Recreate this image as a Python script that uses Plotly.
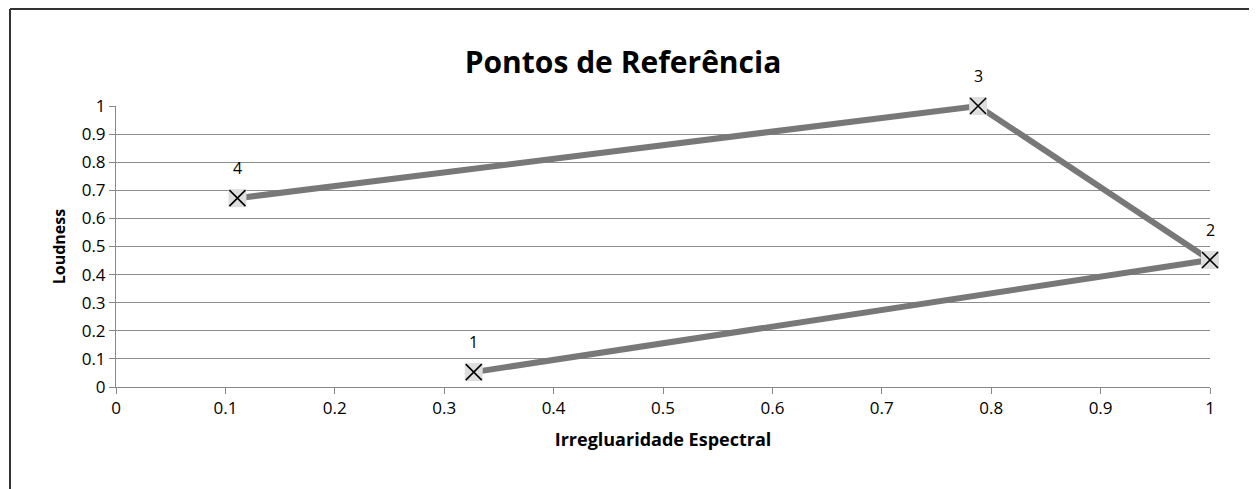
import plotly.graph_objects as go

labels = ["1", "2", "3", "4"]
irregularidade = [0.327, 1.0, 0.788, 0.111]
loudness = [0.053, 0.452, 1.0, 0.672]
x_ticks = [0, 0.1, 0.2, 0.3, 0.4, 0.5, 0.6, 0.7, 0.8, 0.9, 1]
x_tick_text = ["0", "0.1", "0.2", "0.3", "0.4", "0.5", "0.6", "0.7", "0.8", "0.9", "1"]
y_ticks = [0, 0.1, 0.2, 0.3, 0.4, 0.5, 0.6, 0.7, 0.8, 0.9, 1]
y_tick_text = ["0", "0.1", "0.2", "0.3", "0.4", "0.5", "0.6", "0.7", "0.8", "0.9", "1"]

FONT = "Open Sans"

# page has an 8px body offset; figure coordinates are page coordinates - 8
OFF = 8
W, H = 1257, 489
PAD = 10                      # extra room so the line is not clipped at the edges
pw, ph = 1094, 281            # main plot area size (px)
l, t = 116 - OFF - PAD, 106 - OFF - PAD
aw, ah = pw + 2 * PAD, ph + 2 * PAD
r = W - l - aw
b = H - t - ah
dx = [PAD / aw, (PAD + pw) / aw]
dy = [PAD / ah, (PAD + ph) / ah]
x2range = [0 - PAD / pw, 1 + PAD / pw]
y2range = [0 - PAD / ph, 1 + PAD / ph]

fig = go.Figure()
# invisible trace so the main (visible) axes and grid are drawn
fig.add_trace(go.Scatter(x=irregularidade, y=loudness, mode="markers",
                         xaxis="x", yaxis="y", marker=dict(opacity=0),
                         hoverinfo="skip", showlegend=False))
# line (on the overlay axes, whose area is a bit larger so it is not clipped)
fig.add_trace(go.Scatter(x=irregularidade, y=loudness, mode="lines",
                         xaxis="x2", yaxis="y2",
                         line=dict(color="#787878", width=6), hoverinfo="skip",
                         cliponaxis=False, showlegend=False))
# marker shadow squares
fig.add_trace(go.Scatter(x=irregularidade, y=loudness, mode="markers",
                         xaxis="x2", yaxis="y2",
                         marker=dict(symbol="square", size=18, color="#dedede",
                                     line=dict(width=0)),
                         cliponaxis=False, hoverinfo="skip", showlegend=False))
# X markers
fig.add_trace(go.Scatter(x=irregularidade, y=loudness, mode="markers",
                         xaxis="x2", yaxis="y2",
                         marker=dict(symbol="x-thin-open", size=16, color="black",
                                     line=dict(color="black", width=1.6)),
                         cliponaxis=False, showlegend=False))

for xv, yv, tx in zip(irregularidade, loudness, labels):
    fig.add_annotation(x=xv, y=yv, xref="x2", yref="y2", text=tx,
                       showarrow=False, yshift=30,
                       font=dict(family=FONT, size=16, color="black"))

def px(xp):
    return (xp - OFF - l) / aw
def py(yp):
    return (t + ah - (yp - OFF)) / ah
fig.add_shape(type="line", xref="paper", yref="paper", x0=px(10), x1=px(10),
              y0=py(9), y1=py(489), line=dict(color="#333333", width=2))
fig.add_shape(type="line", xref="paper", yref="paper", x0=px(10), x1=px(1256),
              y0=py(9), y1=py(9), line=dict(color="#333333", width=2))
fig.add_shape(type="line", xref="paper", yref="paper", x0=px(1255), x1=px(1255),
              y0=py(9), y1=py(489), line=dict(color="#bbbbbb", width=2))

fig.update_layout(
    width=W, height=H,
    margin=dict(l=l, r=r, t=t, b=b),
    paper_bgcolor="white", plot_bgcolor="rgba(0,0,0,0)",
    title=dict(text="<b>Pontos de Referência</b>", x=(623 - OFF) / W, xanchor="center",
               y=1 - (62 - OFF) / H, yanchor="middle",
               font=dict(family=FONT, size=30, color="black")),
    font=dict(family=FONT, size=17, color="black"),
    xaxis=dict(domain=dx, range=[0, 1], tickvals=x_ticks, ticktext=x_tick_text,
               showgrid=False, zeroline=False, showline=True,
               linecolor="#888888", linewidth=1, ticks="outside",
               ticklen=6, tickcolor="#888888",
               title=dict(text="<b>Irregluaridade Espectral</b>",
                          font=dict(family=FONT, size=18), standoff=14),
               tickfont=dict(family=FONT, size=17)),
    yaxis=dict(domain=dy, range=[0, 1], tickvals=y_ticks, ticktext=y_tick_text,
               showgrid=True, gridcolor="#8c8c8c", gridwidth=1,
               zeroline=False, showline=True, linecolor="#888888",
               linewidth=1, ticks="outside", ticklen=6, tickcolor="#888888",
               title=dict(text="<b>Loudness</b>",
                          font=dict(family=FONT, size=16), standoff=12),
               tickfont=dict(family=FONT, size=17)),
    xaxis2=dict(domain=[0, 1], range=x2range, anchor="y2", visible=False,
                showgrid=False, zeroline=False),
    yaxis2=dict(domain=[0, 1], range=y2range, anchor="x2", visible=False,
                showgrid=False, zeroline=False),
)

fig.write_html("out.html")
